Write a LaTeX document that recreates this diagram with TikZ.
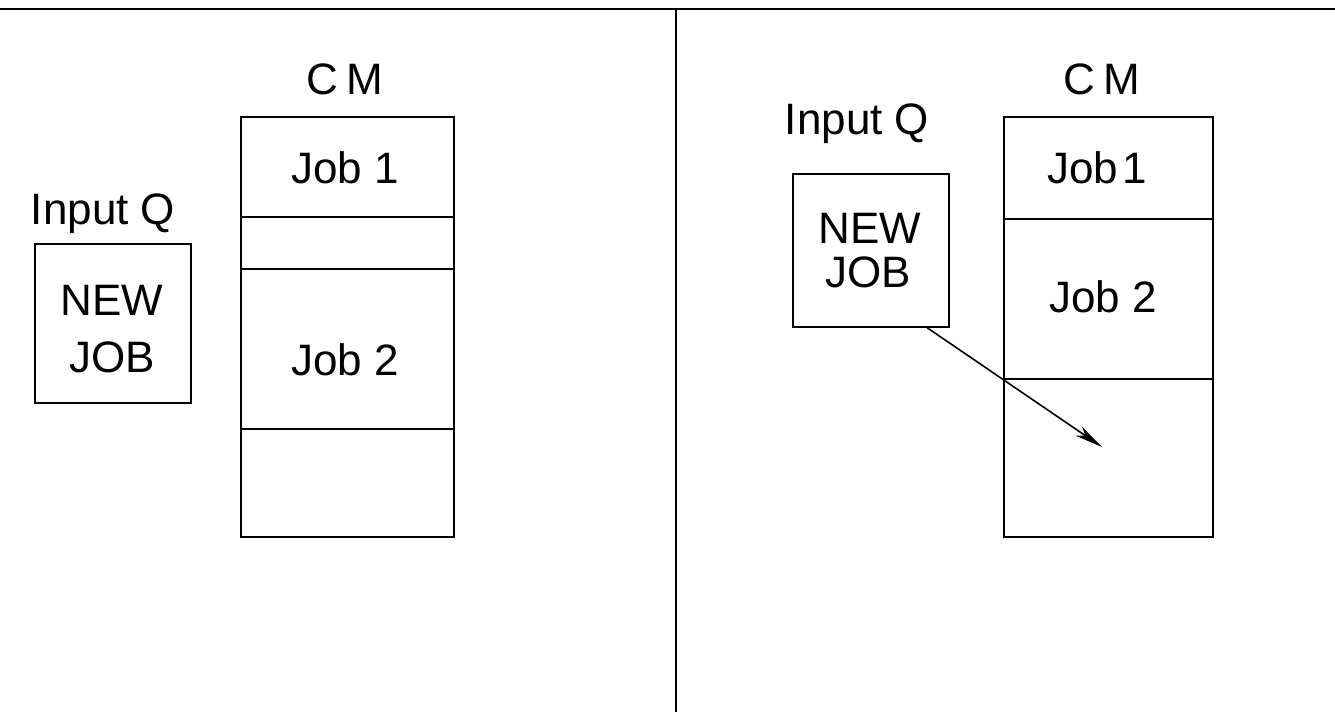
\documentclass[tikz,border=0pt]{standalone}
\usepackage{fontspec}
\setmainfont{Liberation Sans}
\usetikzlibrary{arrows.meta}
\begin{document}
\begin{tikzpicture}[x=1pt,y=-1pt,
  line width=1.6pt,
  lbl/.style={font=\fontsize{44}{46}\selectfont, inner sep=0pt},
  cell/.style={draw, anchor=north west, inner sep=0pt},
  qbox/.style={draw, anchor=north west, inner sep=0pt},
  conn/.style={line width=1.6pt, -{Stealth[length=28pt,width=11pt,inset=8pt]}}
]
\useasboundingbox (0,0) rectangle (1335,712);
% frame lines
\coordinate (tl) at (0,9);
\coordinate (tr) at (1335,9);
\coordinate (dtop) at (676,9);
\coordinate (dbot) at (676,712);
\draw[line width=2.6pt] (tl) -- (tr);
\draw (dtop) -- (dbot);

% ---------- left panel ----------
\node[lbl] (cmL) at (345,79) {\addfontfeature{LetterSpace=18}CM};
\node[cell, minimum width=213pt, minimum height=100pt] (L1) at (240,116) {};
\node[cell, minimum width=213pt, minimum height=52pt] (L2) at (240,216) {};
\node[cell, minimum width=213pt, minimum height=160pt] (L3) at (240,268) {};
\node[cell, minimum width=213pt, minimum height=108pt] (L4) at (240,428) {};
\node[lbl] (j1L) at (345,168) {Job 1};
\node[lbl] (j2L) at (345,360) {Job 2};
\node[lbl] (iqL) at (103,214) {Input Q};
\node[qbox, minimum width=156pt, minimum height=159pt] (nbL) at (34,243) {};
\node[lbl] (newL) at (112,300) {NEW};
\node[lbl] (jobL) at (112,357) {JOB};

% ---------- right panel ----------
\node[lbl] (cmR) at (1102,79) {\addfontfeature{LetterSpace=18}CM};
\node[cell, minimum width=209pt, minimum height=102pt] (R1) at (1003,116) {};
\node[cell, minimum width=209pt, minimum height=160pt] (R2) at (1003,218) {};
\node[cell, minimum width=209pt, minimum height=158pt] (R3) at (1003,378) {};
\node[lbl] (j1R) at (1097,168) {Job\hspace{4pt}1};
\node[lbl] (j2R) at (1103,297) {Job 2};
\node[lbl] (iqR) at (857,124) {Input Q};
\node[qbox, minimum width=156pt, minimum height=153pt] (nbR) at (792,173) {};
\node[lbl] (newR) at (870,228) {NEW};
\node[lbl] (jobR) at (868,272) {JOB};

\coordinate (tgt) at (1102,447);
\draw[conn] (nbR.-54.3) -- (tgt);
\end{tikzpicture}
\end{document}
